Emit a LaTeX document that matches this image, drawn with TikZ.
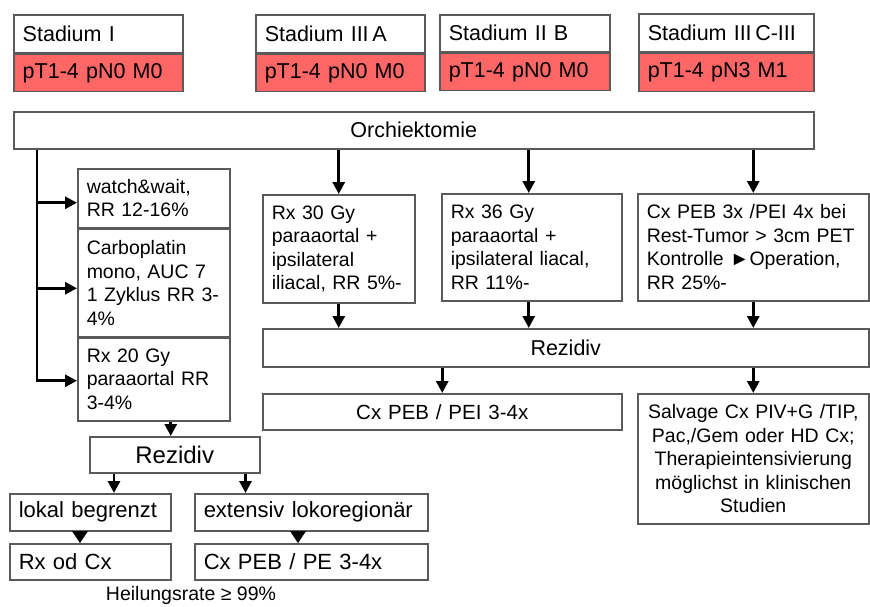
\documentclass[tikz,border=0pt]{standalone}
\usepackage{fontspec}
\setmainfont{Liberation Sans}
\usetikzlibrary{arrows.meta,calc}
\definecolor{boxred}{HTML}{FF6666}
\definecolor{boxline}{HTML}{5A5A5A}
\newcommand\fsA{\fontsize{21.5}{25}\selectfont}
\newcommand\fsB{\fontsize{19.5}{23.5}\selectfont}
\newcommand\fsC{\fontsize{22}{26}\selectfont}
\newcommand\fsD{\fontsize{20.5}{24}\selectfont}
\newcommand\fsE{\fontsize{24}{28}\selectfont}
\begin{document}
\begin{tikzpicture}[x=1pt,y=-1pt,
  box/.style={draw=boxline, line width=1.5pt, fill=white, anchor=north west,
    inner xsep=9pt, inner ysep=0pt, align=left, font=\fsB},
  redbox/.style={box, fill=boxred, font=\fsA},
  topbox/.style={box, font=\fsA},
  cbox/.style={box, align=center},
  arr/.style={line width=2.9pt, -{Triangle[length=12pt,width=12pt]}},
  tri/.style={line width=0.5pt, -{Triangle[length=12pt,width=16pt]}},
  ]
\useasboundingbox (0,0) rectangle (870,606);

% stage boxes
\node[topbox, text width=151pt, minimum height=38pt] (s1t) at (13,14) {Stadium I};
\node[redbox, text width=151pt, minimum height=37pt] (s1b) at (s1t.south west) {pT1-4 pN0 M0};
\node[topbox, text width=151pt, minimum height=38pt] (s2t) at (255,14) {Stadium III\,A};
\node[redbox, text width=151pt, minimum height=37pt] (s2b) at (s2t.south west) {pT1-4 pN0 M0};
\node[topbox, text width=152pt, minimum height=37pt] (s3t) at (439,14) {Stadium II B};
\node[redbox, text width=152pt, minimum height=37pt] (s3b) at (s3t.south west) {pT1-4 pN0 M0};
\node[topbox, text width=157pt, minimum height=38pt] (s4t) at (638,13) {Stadium III\,C-III};
\node[redbox, text width=157pt, minimum height=38pt] (s4b) at (s4t.south west) {pT1-4 pN3 M1};

% Orchiektomie
\node[cbox, font=\fsA, text width=782pt, minimum height=37pt] (orch) at (13,111) {Orchiektomie};

% left column
\node[box, text width=134pt, minimum height=59pt] (ww) at (77,168) {watch\&wait,\\RR 12-16\%};
\node[box, text width=134pt, minimum height=107pt] (carbo) at (ww.south west) {Carboplatin\\mono, AUC 7\\1 Zyklus RR 3-\\4\%};
\node[box, text width=134pt, minimum height=83pt] (rx20) at (carbo.south west) {Rx 20 Gy\\paraaortal RR\\3-4\%};

% middle / right columns
\node[box, text width=134pt, minimum height=108pt] (rx30) at (262,194) {Rx 30 Gy\\paraaortal +\\ipsilateral\\iliacal, RR 5\%-};
\node[box, text width=162pt, minimum height=107pt] (rx36) at (441,193) {Rx 36 Gy\\paraaortal +\\ipsilateral liacal,\\RR 11\%-};
\node[box, text width=213pt, minimum height=107pt] (cxr) at (637,193) {Cx PEB 3x /PEI 4x bei\\Rest-Tumor > 3cm PET\\Kontrolle ►Operation,\\RR 25\%-};

\node[cbox, font=\fsA, text width=588pt, minimum height=38pt] (rez) at (262,328) {Rezidiv};
\node[cbox, font=\fsD, text width=341pt, minimum height=36pt] (cxpei) at (262,393) {Cx PEB / PEI 3-4x};
\node[cbox, inner xsep=4pt, text width=223pt, minimum height=130pt] (salv) at (637,393) {Salvage Cx PIV+G /TIP,\\Pac,/Gem oder HD Cx;\\Therapieintensivierung\\möglichst in klinischen\\Studien};

% bottom left
\node[cbox, font=\fsE, text width=152pt, minimum height=36pt] (rezl) at (89,436) {Rezidiv};
\node[box, font=\fsC, text width=143pt, minimum height=37pt] (lok) at (9,493) {lokal begrenzt};
\node[box, font=\fsC, text width=215pt, minimum height=37pt] (ext) at (194,493) {extensiv lokoregionär};
\node[box, font=\fsC, text width=143pt, minimum height=36pt] (rxod) at (9,543) {Rx od Cx};
\node[box, font=\fsC, text width=215pt, minimum height=36pt] (cxpe) at (194,543) {Cx PEB / PE 3-4x};
\node[font=\fsB, inner sep=0pt] (heil) at (191,595) {Heilungsrate ≥ 99\%};

% connectors: left trunk
\coordinate (trunk) at ($(orch.south west)+(24,0)$);
\draw[arr, line join=miter] (trunk) -- ($(trunk |- rx20.west)+(0,1.5)$) -- ($(rx20.west)+(0,1.5)$);
\draw[arr] ($(trunk |- ww.west)+(0,4.5)$) -- ($(ww.west)+(0,4.5)$);
\draw[arr] ($(trunk |- carbo.west)+(0,5.5)$) -- ($(carbo.west)+(0,5.5)$);

% from Orchiektomie
\draw[arr] (orch.south -| rx30.north) -- (rx30.north);
\draw[arr] ($(orch.south -| rx36.north)+(-3,0)$) -- ($(rx36.north)+(-3,0)$);
\draw[arr] (orch.south -| cxr.north) -- (cxr.north);

% to Rezidiv
\draw[arr] (rx30.south) -- (rx30.south |- rez.north);
\draw[arr] ($(rx36.south)+(-3,0)$) -- ($(rx36.south |- rez.north)+(-3,0)$);
\draw[arr] (cxr.south) -- (cxr.south |- rez.north);

% from Rezidiv
\draw[arr] (rez.south -| cxpei.north) -- (cxpei.north);
\draw[arr] (rez.south -| salv.north) -- (salv.north);

% left bottom
\draw[arr] ($(rx20.south -| rezl.north)+(-4,0)$) -- ($(rezl.north)+(-4,0)$);
\draw[arr] ($(rezl.south west)+(25,0)$) -- ($(rezl.south west |- lok.north)+(25,0)$);
\draw[arr] ($(rezl.south east)+(-15,0)$) -- ($(rezl.south east |- ext.north)+(-15,0)$);
\draw[tri] ($(lok.south west)+(71,0)$) -- ($(rxod.north west)+(71,0)$);
\draw[tri] ($(ext.south west)+(104,0)$) -- ($(cxpe.north west)+(104,0)$);
\end{tikzpicture}
\end{document}
